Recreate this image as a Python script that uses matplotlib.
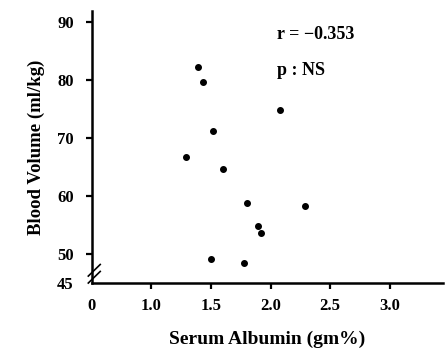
import matplotlib
matplotlib.use("Agg")
from matplotlib import pyplot as plt

# scanned scatter: blood volume vs serum albumin
albumin = [1.39, 1.43, 2.08, 1.52, 1.29, 1.60, 1.80, 2.29, 1.89, 1.92, 1.50, 1.78]
blood_volume = [82.2, 79.7, 74.8, 71.3, 66.8, 64.7, 58.8, 58.3, 54.9, 53.6, 49.2, 48.4]

# x axis is broken: "0" sits where 0.5 would be
xticks = [0.5, 1.0, 1.5, 2.0, 2.5, 3.0]
xticklabels = ["0", "1.0", "1.5", "2.0", "2.5", "3.0"]
yticks = [45, 50, 60, 70, 80, 90]
yticklabels = ["45", "50", "60", "70", "80", "90"]

plt.rcParams["font.family"] = ["Liberation Serif", "DejaVu Serif"]
plt.rcParams["font.weight"] = "bold"

fig = plt.figure(figsize=(4.46, 3.49), dpi=100)
ax = fig.add_axes([0.206, 0.189, 0.787, 0.779])

ax.scatter(albumin, blood_volume, s=16, color="black", zorder=3)

ax.set_xlim(0.5, 3.445)
ax.set_ylim(45, 91.9)
ax.set_xticks(xticks)
ax.set_xticklabels(xticklabels, fontsize=12, fontweight="bold")
ax.set_yticks(yticks)
ax.set_yticklabels(yticklabels, fontsize=12, fontweight="bold")
ax.tick_params(direction="out", length=4, width=1.6)
ax.tick_params(axis="y", pad=9)
ax.tick_params(axis="x", pad=7)
ax.xaxis.get_major_ticks()[0].tick1line.set_visible(False)
ax.yaxis.get_major_ticks()[0].tick1line.set_visible(False)

for s in ["top", "right"]:
    ax.spines[s].set_visible(False)
for s in ["left", "bottom"]:
    ax.spines[s].set_linewidth(1.8)

# axis break mark on y
for dy in (0.0, 1.2):
    ax.plot([0.47, 0.57], [45.0 + dy, 47.0 + dy], color="black", lw=1.2,
            clip_on=False, zorder=4)

ax.set_xlabel("Serum Albumin (gm%)", fontsize=14, fontweight="bold", labelpad=12)
ax.set_ylabel("Blood Volume (ml/kg)", fontsize=13.5, fontweight="bold", labelpad=9)

ax.text(2.05, 87.8, "r = −0.353", fontsize=13, fontweight="bold", ha="left", va="center")
ax.text(2.05, 81.7, "p : NS", fontsize=13, fontweight="bold", ha="left", va="center")

fig.savefig("out.png", dpi=100)
